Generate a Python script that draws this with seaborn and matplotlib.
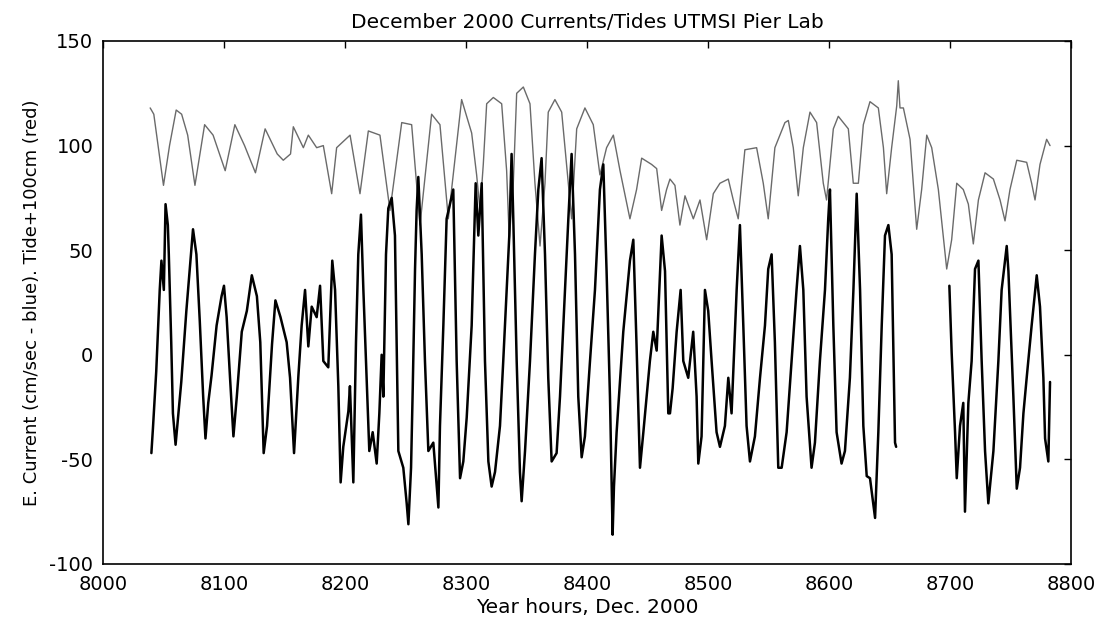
import numpy as np
import pandas as pd
import matplotlib
matplotlib.use("Agg")
import matplotlib.pyplot as plt
import seaborn as sns

# --- data (year hours, cm) ---
tide_hours = [8039, 8042, 8050, 8055, 8060.5, 8065, 8070, 8076, 8084, 8091, 8101, 8109, 8117,
              8126, 8134, 8144, 8149, 8155, 8157.3, 8165.6, 8169.7, 8176.6, 8182.1, 8189,
              8193.1, 8204.2, 8212.4, 8219.3, 8228.9, 8237.2, 8246.9, 8255.1, 8262, 8271.6,
              8278.5, 8285.4, 8296.4, 8304.7, 8308.8, 8311.6, 8314.3, 8317.1, 8322.6, 8329.5,
              8333.6, 8335.8, 8339.1, 8341.9, 8347.4, 8352.9, 8357, 8361.2, 8365.3, 8368,
              8373.5, 8379.1, 8384.6, 8387.3, 8391.5, 8398.3, 8405.2, 8410.7, 8416.2, 8421.8,
              8427.3, 8435.5, 8441, 8445.2, 8453.4, 8457.6, 8461.7, 8465.8, 8468.6, 8472.7,
              8476.8, 8481, 8487.9, 8493.4, 8498.9, 8504.4, 8509.9, 8516.8, 8520.9, 8525,
              8530.5, 8540.2, 8545.7, 8549.8, 8555.3, 8563.6, 8566.4, 8570.5, 8574.6, 8578.8,
              8584.3, 8589.8, 8595.3, 8598, 8603.6, 8607.7, 8616, 8620.1, 8624.3, 8628.4,
              8633.9, 8640.8, 8645, 8647.7, 8651.8, 8656, 8657.3, 8658.7, 8661.5, 8667,
              8672.5, 8676.6, 8680.8, 8684.9, 8690.4, 8697.3, 8701.4, 8705.6, 8711, 8715.2,
              8719.3, 8723.5, 8729, 8735.9, 8741.4, 8745.5, 8749.6, 8755.2, 8763.4, 8767.5,
              8770.3, 8774.4, 8779.9, 8782.7]
tide_vals = [118, 115, 81, 100, 117, 115, 105, 81, 110, 105, 88, 110, 100,
             87, 108, 96, 93, 96, 109, 99, 105, 99, 100, 77,
             99, 105, 77, 107, 105, 69, 111, 110, 62, 115,
             110, 65, 122, 106, 86, 69, 91, 120, 123, 120,
             88, 55, 82, 125, 128, 120, 82, 52, 82, 116,
             122, 116, 82, 65, 108, 118, 110, 86, 99, 105,
             88, 65, 79, 94, 91, 89, 69, 79, 84, 81,
             62, 76, 65, 74, 55, 77, 82, 84, 74, 65,
             98, 99, 82, 65, 99, 111, 112, 99, 76, 99,
             116, 111, 82, 74, 108, 114, 108, 82, 82, 110,
             121, 118, 99, 77, 99, 119, 131, 118, 118, 103,
             60, 79, 105, 99, 79, 41, 55, 82, 79, 72,
             53, 74, 87, 84, 74, 64, 79, 93, 92, 82,
             74, 91, 103, 100]

# current record, first stretch (gap in the record after ~8655 h)
cur1_hours = [8040, 8041.3, 8044, 8046.9, 8048.3, 8050.3, 8051.7, 8053.6, 8054.4, 8056.4,
              8057.8, 8060, 8062, 8064.7, 8068.9, 8071.7, 8074.4, 8077.2, 8080, 8082.8,
              8084.7, 8087, 8089.7, 8093.9, 8098, 8100, 8102.2, 8105, 8107.8, 8110.6,
              8114.7, 8118.9, 8123, 8127.2, 8130, 8132.8, 8135.6, 8139.7, 8142.5, 8146.7,
              8151.8, 8154.6, 8157.9, 8161.5, 8164.2, 8167, 8169.7, 8172.5, 8176.6, 8179.4,
              8182.1, 8186.2, 8189.5, 8191.8, 8194.5, 8196.4, 8198.6, 8202.8, 8204.1, 8206.9,
              8209.1, 8211, 8213.2, 8215.2, 8217.9, 8220.1, 8222.9, 8226.2, 8228.4, 8230.3,
              8231.7, 8233.9, 8235.8, 8238.6, 8241.3, 8244.1, 8248.2, 8251, 8252.4, 8254.6,
              8256, 8257.9, 8259.2, 8260.6, 8263.4, 8266.1, 8268.9, 8273, 8277.2, 8278.5,
              8281.3, 8284, 8289.5, 8292.3, 8295.1, 8297.8, 8300.6, 8304.7, 8308, 8310.2,
              8313, 8315.7, 8318.5, 8321.2, 8324, 8328.1, 8330.8, 8333.6, 8335.8, 8337.7,
              8339.1, 8341.9, 8344.6, 8346, 8348.8, 8352.9, 8357, 8359.8, 8362.5, 8365.3,
              8368, 8370.8, 8374.9, 8377.7, 8381.8, 8384.6, 8387.3, 8390.1, 8392.8, 8395.6,
              8398.3, 8402.5, 8406.6, 8410.7, 8413.5, 8416.2, 8419, 8421.2, 8422.3, 8424.5,
              8430, 8435.5, 8438.3, 8441, 8443.8, 8446.6, 8452, 8454.8, 8457.6, 8461.7,
              8464.5, 8467.2, 8468.6, 8470.8, 8474.1, 8477.4, 8479.6, 8483.7, 8487.8, 8490.6,
              8492, 8494.7, 8497.5, 8500.2, 8503, 8507.1, 8509.9, 8514, 8516.8, 8519.5,
              8523.7, 8526.4, 8529.2, 8531.9, 8534.7, 8538.8, 8543, 8547.1, 8549.8, 8552.6,
              8555.3, 8558.1, 8560.9, 8565, 8569.1, 8573.2, 8576, 8578.8, 8581.5, 8585.6,
              8588.4, 8592.5, 8596.7, 8599.4, 8600.8, 8603.6, 8606.3, 8610.4, 8613.2, 8617.3,
              8620.2, 8622.9, 8625.7, 8628.4, 8631.2, 8633.9, 8638.1, 8640.8, 8643.6, 8646.3,
              8649.1, 8651.8, 8654.6, 8655.5]
cur1_vals = [-47, -35, -8, 31, 45, 31, 72, 62, 48, 6,
             -28, -43, -30, -13, 21, 41, 60, 48, 16, -20,
             -40, -23, -10, 14, 28, 33, 18, -11, -39, -20,
             11, 21, 38, 28, 6, -47, -34, 5, 26, 18,
             6, -11, -47, -10, 14, 31, 4, 23, 18, 33,
             -3, -6, 45, 31, -15, -61, -44, -27, -15, -61,
             6, 48, 67, 31, -11, -46, -37, -52, -28, 0,
             -20, 48, 70, 75, 57, -46, -54, -71, -81, -54,
             -16, 41, 69, 85, 48, -3, -46, -42, -73, -34,
             14, 65, 79, -3, -59, -51, -30, 14, 82, 57,
             82, -3, -51, -63, -56, -34, -3, 31, 57, 96,
             65, -3, -56, -70, -46, -3, 48, 79, 94, 48,
             -11, -51, -47, -20, 31, 65, 96, 48, -20, -49,
             -39, -3, 31, 79, 91, 40, -20, -86, -63, -37,
             11, 45, 55, 4, -54, -37, -3, 11, 2, 57,
             40, -28, -28, -16, 11, 31, -3, -11, 11, -20,
             -52, -39, 31, 21, -3, -37, -44, -34, -11, -28,
             31, 62, 14, -34, -51, -39, -11, 14, 41, 48,
             6, -54, -54, -37, -3, 31, 52, 31, -20, -54,
             -42, -3, 31, 65, 79, 14, -37, -52, -46, -11,
             31, 77, 31, -34, -58, -59, -78, -37, 14, 57,
             62, 48, -42, -44]

# current record, second stretch
cur2_hours = [8699.5, 8701.4, 8704.2, 8705.6, 8708.3, 8711, 8712.4, 8715.2, 8717.9, 8720.7,
              8723.5, 8726.2, 8729, 8731.7, 8735.9, 8740, 8742.7, 8746.9, 8748.3, 8752.4,
              8755.2, 8757.9, 8760.7, 8763.4, 8767.5, 8771.7, 8774.4, 8777.2, 8778.6, 8781.3,
              8782.7]
cur2_vals = [33, 1, -37, -59, -34, -23, -75, -23, -3, 41,
             45, -3, -46, -71, -46, -3, 31, 52, 40, -20,
             -64, -54, -28, -11, 14, 38, 23, -11, -40, -51,
             -13]

x_ticks = np.arange(8000, 8801, 100)
y_ticks = np.arange(-100, 151, 50)

sns.set_theme(style="white")
plt.rcParams['font.family'] = ['DejaVu Sans']
plt.rcParams['axes.unicode_minus'] = False
plt.rcParams['text.color'] = 'black'
plt.rcParams['axes.labelcolor'] = 'black'

fig = plt.figure(figsize=(11.05, 6.24), dpi=100)
ax = fig.add_axes([0.0932, 0.0962, 0.876, 0.8381])

tide = pd.DataFrame({"hour": tide_hours, "cm": tide_vals})
cur1 = pd.DataFrame({"hour": cur1_hours, "cm": cur1_vals})
cur2 = pd.DataFrame({"hour": cur2_hours, "cm": cur2_vals})

sns.lineplot(data=tide, x="hour", y="cm", sort=False, estimator=None,
             color="#6a6a6a", linewidth=1.0, ax=ax)
sns.lineplot(data=cur1, x="hour", y="cm", sort=False, estimator=None,
             color="black", linewidth=1.8, ax=ax)
sns.lineplot(data=cur2, x="hour", y="cm", sort=False, estimator=None,
             color="black", linewidth=1.8, ax=ax)

ax.set_xlim(8000, 8800)
ax.set_ylim(-100, 150)
ax.set_xticks(x_ticks)
ax.set_yticks(y_ticks)
ax.tick_params(direction="in", top=True, right=True, length=5, width=1,
               labelsize=14, colors="black")
ax.tick_params(axis="x", pad=8)
ax.tick_params(axis="y", pad=7)
for sp in ax.spines.values():
    sp.set_color("black")
    sp.set_linewidth(1.2)

ax.set_title("December 2000 Currents/Tides UTMSI Pier Lab", fontsize=14.5, pad=9)
ax.set_xlabel("Year hours, Dec. 2000", fontsize=14.5, labelpad=3)
ax.set_ylabel("E. Current (cm/sec - blue). Tide+100cm (red)", fontsize=13, labelpad=6)

fig.savefig("out.png", dpi=100)
